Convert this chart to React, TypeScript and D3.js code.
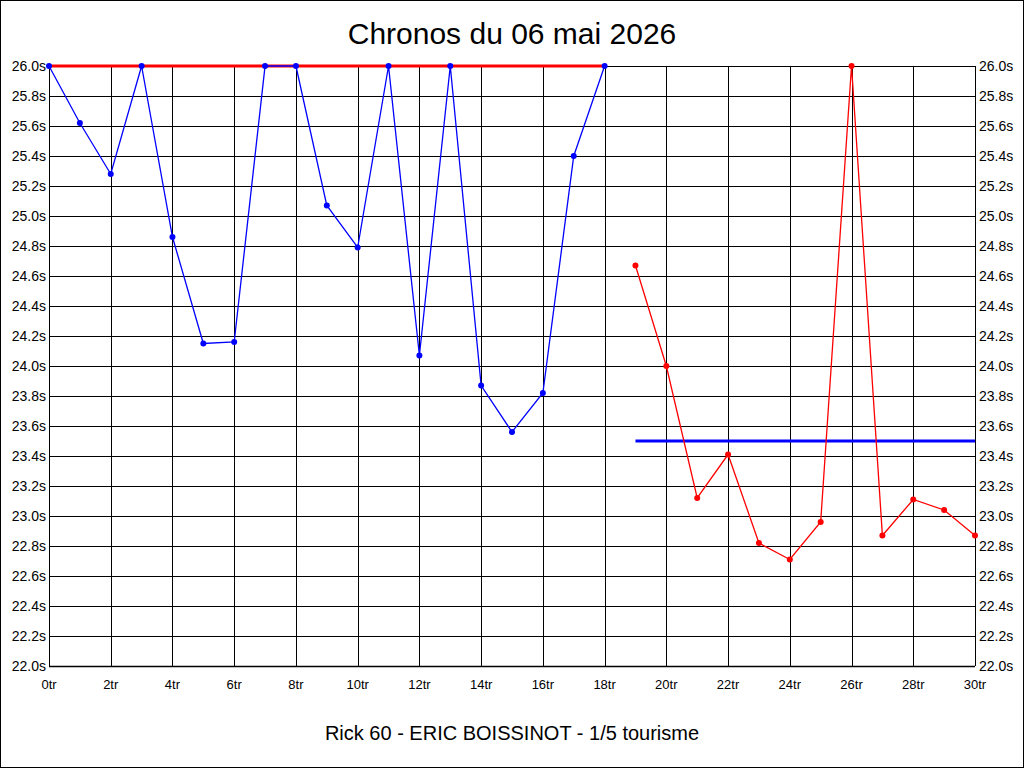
import React from "react";
import * as d3 from "d3";

const title = "Chronos du 06 mai 2026";
const subtitle = "Rick 60 - ERIC BOISSINOT - 1/5 tourisme";

// tour numbers and lap times (s) — values above 26 are shown clamped at 26
const blueLaps = [0, 1, 2, 3, 4, 5, 6, 7, 8, 9, 10, 11, 12, 13, 14, 15, 16, 17, 18];
const blueTimes = [26.0, 25.62, 25.28, 26.0, 24.86, 24.15, 24.16, 26.0, 26.0, 25.07, 24.79, 26.0, 24.07, 26.0, 23.87, 23.56, 23.82, 25.4, 26.0];

const redLaps = [19, 20, 21, 22, 23, 24, 25, 26, 27, 28, 29, 30];
const redTimes = [24.67, 24.0, 23.12, 23.41, 22.82, 22.71, 22.96, 26.0, 22.87, 23.11, 23.04, 22.87];

// reference lines
const redRefLaps = [0, 18];
const redRefTime = 26.0;
const blueRefLaps = [19, 30];
const blueRefTime = 23.5;

const xTicks = [0, 2, 4, 6, 8, 10, 12, 14, 16, 18, 20, 22, 24, 26, 28, 30];
const yTicks = [22.0, 22.2, 22.4, 22.6, 22.8, 23.0, 23.2, 23.4, 23.6, 23.8, 24.0, 24.2, 24.4, 24.6, 24.8, 25.0, 25.2, 25.4, 25.6, 25.8, 26.0];

const W = 1024;
const H = 768;
const left = 49;
const right = 975;
const top = 66;
const bottom = 666;

const font = "'Liberation Sans', Arial, sans-serif";

export default function App() {
  const x = d3.scaleLinear().domain([0, 30]).range([left, right]);
  const y = d3.scaleLinear().domain([22, 26]).range([bottom, top]);

  const line = d3
    .line<[number, number]>()
    .x((d) => x(d[0]))
    .y((d) => y(d[1]));

  const blue: [number, number][] = blueLaps.map((l, i) => [l, blueTimes[i]]);
  const red: [number, number][] = redLaps.map((l, i) => [l, redTimes[i]]);

  return (
    <svg
      width={W}
      height={H}
      style={{ position: "absolute", left: 0, top: 0, background: "#fff" }}
      fontFamily={font}
    >
      <rect x={0.5} y={0.5} width={W - 1} height={H - 1} fill="#fff" stroke="#000" />
      <text x={W / 2} y={44} textAnchor="middle" fontSize={30} fill="#000">
        {title}
      </text>

      {/* grid */}
      {yTicks.map((t) => (
        <line key={"h" + t} x1={left} x2={right} y1={Math.round(y(t)) + 0.5} y2={Math.round(y(t)) + 0.5} stroke="#000" strokeWidth={1} />
      ))}
      {xTicks.map((t) => (
        <line key={"v" + t} x1={Math.round(x(t)) + 0.5} x2={Math.round(x(t)) + 0.5} y1={top} y2={bottom} stroke="#000" strokeWidth={1} />
      ))}
      <line x1={left} x2={right} y1={bottom + 0.5} y2={bottom + 0.5} stroke="#000" strokeWidth={1.5} />

      {/* axis labels */}
      {yTicks.map((t) => (
        <g key={"yl" + t} fontSize={14} fill="#000">
          <text x={left - 3} y={y(t) + 5} textAnchor="end">
            {t.toFixed(1)}s
          </text>
          <text x={right + 4} y={y(t) + 5} textAnchor="start">
            {t.toFixed(1)}s
          </text>
        </g>
      ))}
      {xTicks.map((t) => (
        <text key={"xl" + t} x={x(t)} y={689} textAnchor="middle" fontSize={13} fill="#000">
          {t}tr
        </text>
      ))}

      {/* reference lines */}
      <line x1={x(redRefLaps[0])} x2={x(redRefLaps[1])} y1={y(redRefTime)} y2={y(redRefTime)} stroke="#ff0000" strokeWidth={3} />
      <line x1={x(blueRefLaps[0])} x2={x(blueRefLaps[1])} y1={y(blueRefTime)} y2={y(blueRefTime)} stroke="#0000ff" strokeWidth={3} />

      {/* series */}
      <path d={line(blue) || ""} fill="none" stroke="#0000ff" strokeWidth={1.3} />
      {blue.map((d, i) => (
        <circle key={"b" + i} cx={x(d[0])} cy={y(d[1])} r={3} fill="#0000ff" />
      ))}
      <path d={line(red) || ""} fill="none" stroke="#ff0000" strokeWidth={1.3} />
      {red.map((d, i) => (
        <circle key={"r" + i} cx={x(d[0])} cy={y(d[1])} r={3} fill="#ff0000" />
      ))}

      <text x={W / 2} y={740} textAnchor="middle" fontSize={20} fill="#000">
        {subtitle}
      </text>
    </svg>
  );
}
